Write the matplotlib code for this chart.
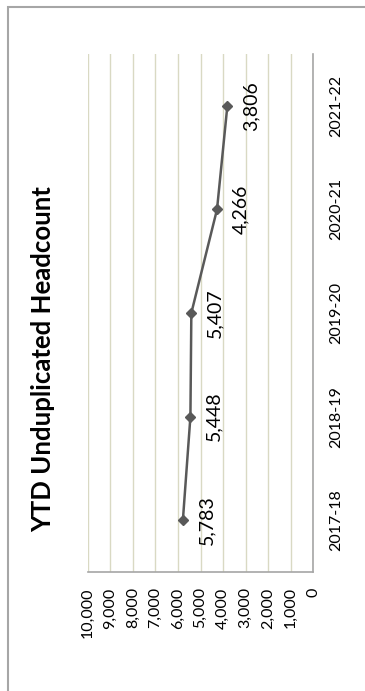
import matplotlib
matplotlib.use("Agg")
import matplotlib.pyplot as plt
from matplotlib.patches import Rectangle
from matplotlib.ticker import FuncFormatter

plt.rcParams['font.family'] = ['Lato', 'DejaVu Sans']

years = ["2017-18", "2018-19", "2019-20", "2020-21", "2021-22"]
headcount = [5783, 5448, 5407, 4266, 3806]
value_ticks = [0, 1000, 2000, 3000, 4000, 5000, 6000, 7000, 8000, 9000, 10000]

W, H = 365, 691
fig = plt.figure(figsize=(W / 100, H / 100), dpi=100)

# chart frame (runs off the right and bottom edges)
fig.patches.append(Rectangle((7.5 / W, -0.1), 1.2, 1.1 - 6.5 / H,
                             transform=fig.transFigure, fill=False,
                             edgecolor='#a6a6a6', linewidth=1.5))

ax = fig.add_axes([88 / W, 1 - 572 / H, 225 / W, 518 / H])
pos = list(range(len(years)))

# the chart is laid on its side: values run right-to-left, years bottom-to-top
ax.plot(headcount, pos, color='#595959', linewidth=1.8,
        marker='D', markersize=5.5, zorder=3)

for v, p in zip(headcount, pos):
    ax.annotate(f"{v:,}", (v, p), xytext=(11, 0), textcoords='offset points',
                rotation=90, ha='left', va='center', fontsize=14,
                color='#000000')

ax.set_xlim(10000, 0)
ax.set_ylim(-0.5, len(years) - 0.5)
ax.set_xticks(value_ticks)
ax.xaxis.set_major_formatter(FuncFormatter(lambda v, _: f"{int(v):,}"))
ax.set_yticks(pos)
ax.set_yticklabels(years)
ax.yaxis.tick_right()

ax.grid(axis='x', color='#d9d9c3', linewidth=1)
ax.set_axisbelow(True)
for side in ('top', 'left'):
    ax.spines[side].set_visible(False)
for side in ('right', 'bottom'):
    ax.spines[side].set_color('#a6a6a6')
    ax.spines[side].set_linewidth(1.2)

ax.tick_params(axis='x', length=0, pad=11, labelsize=11.5, labelrotation=90)
ax.tick_params(axis='y', length=0, pad=12, labelsize=11.5, labelrotation=90)
for lbl in ax.get_yticklabels():
    lbl.set_va('center')

fig.text(43 / W, 1 - 359 / H, "YTD Unduplicated Headcount", rotation=90,
         ha='center', va='center', fontsize=18.5, fontweight='bold')

fig.savefig("out.png", dpi=100)
